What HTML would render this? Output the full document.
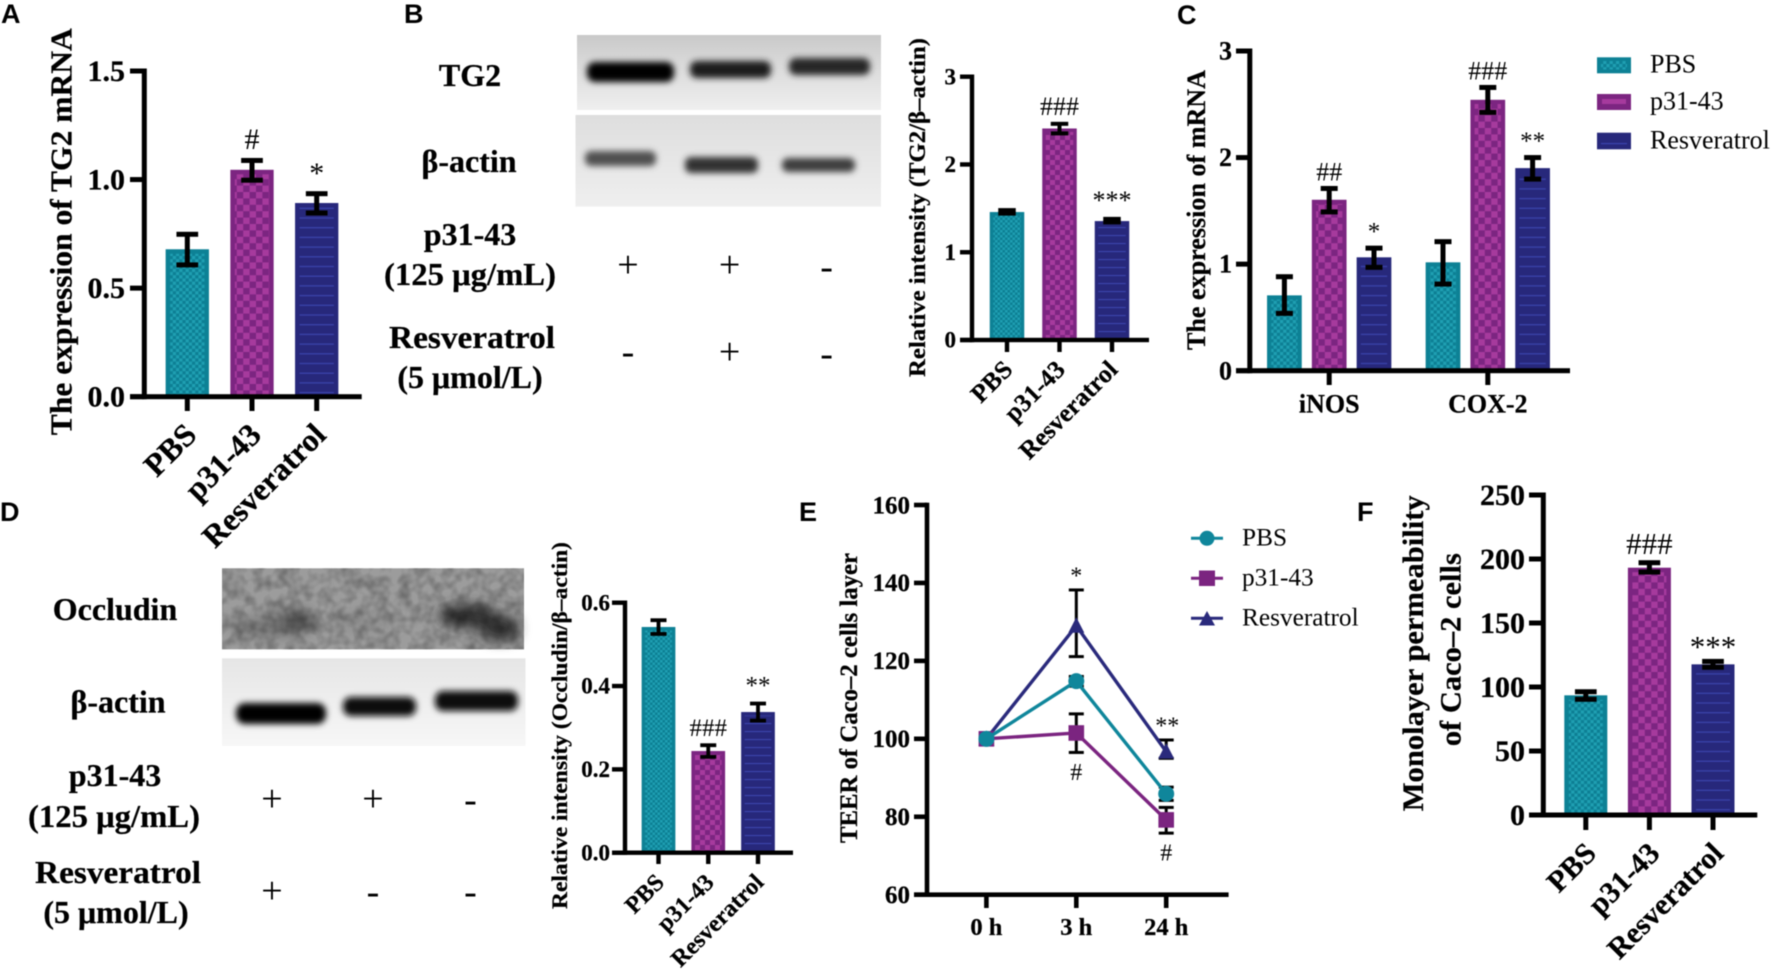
<!DOCTYPE html>
<html lang="en">
<head>
<meta charset="utf-8">
<title>Resveratrol panel figure</title>
<style>
html,body{margin:0;padding:0;background:#fff;width:1772px;height:971px;overflow:hidden}
svg{display:block;position:absolute;left:0;top:0;filter:blur(.45px)}
text{font-family:"Liberation Serif",serif;fill:#000}
.b,.lab,text[font-weight=bold]{font-weight:bold;stroke:#000;stroke-width:.25}
.letter{font-family:"Liberation Sans",sans-serif;font-weight:bold;font-size:27px}
.lab{font-size:32px;text-anchor:middle}
.sign{font-size:38px;text-anchor:middle}
</style>
</head>
<body>
<svg id="figure" xmlns="http://www.w3.org/2000/svg" width="1772" height="971" viewBox="0 0 1772 971">
<defs>
<pattern id="teal-lg" width="6.4" height="6.4" patternUnits="userSpaceOnUse"><rect width="6.4" height="6.4" fill="#0d7f94"/><rect width="3.2" height="3.2" fill="#1f9fb2"/><rect x="3.2" y="3.2" width="3.2" height="3.2" fill="#1f9fb2"/></pattern>
<pattern id="purple-lg" width="12.8" height="12.8" patternUnits="userSpaceOnUse"><rect width="12.8" height="12.8" fill="#7c2581"/><rect width="6.4" height="6.4" fill="#a63a9d"/><rect x="6.4" y="6.4" width="6.4" height="6.4" fill="#a63a9d"/></pattern>
<pattern id="navy-lg" width="9.7" height="9.7" patternUnits="userSpaceOnUse"><rect width="9.7" height="9.7" fill="#27287b"/><rect y="4" width="9.7" height="1.2" fill="#3b44ae"/></pattern>
<pattern id="teal-sm" width="5" height="5" patternUnits="userSpaceOnUse"><rect width="5" height="5" fill="#0d7f94"/><rect width="2.5" height="2.5" fill="#1f9fb2"/><rect x="2.5" y="2.5" width="2.5" height="2.5" fill="#1f9fb2"/></pattern>
<pattern id="purple-sm" width="10" height="10" patternUnits="userSpaceOnUse"><rect width="10" height="10" fill="#7c2581"/><rect width="5" height="5" fill="#a63a9d"/><rect x="5" y="5" width="5" height="5" fill="#a63a9d"/></pattern>
<pattern id="navy-sm" width="8" height="8" patternUnits="userSpaceOnUse"><rect width="8" height="8" fill="#27287b"/><rect y="3" width="8" height="1.1" fill="#3b44ae"/></pattern>
<filter id="blur3" x="-30%" y="-80%" width="160%" height="260%"><feGaussianBlur stdDeviation="3.2"/></filter>
<filter id="blur5" x="-30%" y="-80%" width="160%" height="260%"><feGaussianBlur stdDeviation="6"/></filter>
<filter id="mottle" x="0" y="0" width="100%" height="100%"><feTurbulence type="fractalNoise" baseFrequency=".09" numOctaves="2" seed="4"/><feColorMatrix values="0 0 0 0 0  0 0 0 0 0  0 0 0 0 0  1.6 0 0 0 -.55"/></filter>
<linearGradient id="bg-tg2" x1="0" y1="0" x2="0" y2="1"><stop offset="0" stop-color="#c9c9c9"/><stop offset=".35" stop-color="#d8d8d8"/><stop offset="1" stop-color="#efefef"/></linearGradient>
<linearGradient id="bg-act" x1="0" y1="0" x2="0" y2="1"><stop offset="0" stop-color="#dedede"/><stop offset="1" stop-color="#efefef"/></linearGradient>
<linearGradient id="bg-act2" x1="0" y1="0" x2="0" y2="1"><stop offset="0" stop-color="#e6e6e6"/><stop offset="1" stop-color="#f7f7f7"/></linearGradient>
</defs>

<text class="letter" x="1" y="23">A</text>
<text class="letter" x="404" y="23">B</text>
<text class="letter" x="1177" y="24">C</text>
<text class="letter" x="0" y="521">D</text>
<text class="letter" x="799" y="521">E</text>
<text class="letter" x="1357" y="521">F</text>

<!-- Axis titles -->
<text class="b" font-size="31" text-anchor="middle" transform="translate(71.5,231.7) rotate(-90)" textLength="407" lengthAdjust="spacingAndGlyphs">The expression of TG2 mRNA</text>
<text class="b" font-size="23" text-anchor="middle" transform="translate(925,207.5) rotate(-90)" textLength="339" lengthAdjust="spacingAndGlyphs">Relative intensity (TG2/β–actin)</text>
<text class="b" font-size="26" text-anchor="middle" transform="translate(1205,210) rotate(-90)" textLength="280" lengthAdjust="spacingAndGlyphs">The expression of mRNA</text>
<text class="b" font-size="22" text-anchor="middle" transform="translate(567,725.5) rotate(-90)" textLength="367" lengthAdjust="spacingAndGlyphs">Relative intensity (Occludin/β–actin)</text>
<text class="b" font-size="25" text-anchor="middle" transform="translate(857,698) rotate(-90)" textLength="290" lengthAdjust="spacingAndGlyphs">TEER of Caco–2 cells layer</text>
<text class="b" font-size="30" text-anchor="middle" transform="translate(1423,653.3) rotate(-90)" textLength="316" lengthAdjust="spacingAndGlyphs">Monolayer permeability</text>
<text class="b" font-size="30" text-anchor="middle" transform="translate(1460.7,649.7) rotate(-90)" textLength="193" lengthAdjust="spacingAndGlyphs">of Caco–2 cells</text>

<!-- Panel B blots -->
<g>
<rect x="577" y="35" width="304" height="75" fill="url(#bg-tg2)"/>
<g filter="url(#blur3)">
<rect x="587" y="62" width="87" height="20" rx="8" fill="#000"/>
<rect x="690" y="61" width="81" height="17" rx="7" fill="#1e1e1e"/>
<rect x="789" y="58" width="81" height="17" rx="7" fill="#262626"/>
</g></g>
<g>
<rect x="575.5" y="115" width="305.5" height="91.7" fill="url(#bg-act)"/>
<g filter="url(#blur3)">
<rect x="585" y="151" width="71" height="15" rx="6" fill="#505050"/>
<rect x="685" y="157" width="73" height="16" rx="6" fill="#333"/>
<rect x="782" y="158" width="73" height="14" rx="6" fill="#3c3c3c"/>
</g></g>

<!-- Panel D blots -->
<g>
<rect x="222" y="568.3" width="302" height="81" fill="#9c9c9c"/>
<g filter="url(#blur5)">
<ellipse cx="270" cy="627" rx="38" ry="10" fill="#787878"/>
<ellipse cx="297" cy="621" rx="17" ry="12" fill="#555"/>
<ellipse cx="468" cy="616" rx="30" ry="12" fill="#303030"/>
<ellipse cx="500" cy="628" rx="19" ry="13" fill="#333"/>
<ellipse cx="365" cy="622" rx="30" ry="11" fill="#909090"/>
</g>
<rect x="222" y="568.3" width="302" height="81" filter="url(#mottle)" opacity=".35"/>
</g>
<g>
<rect x="222" y="658.3" width="303.5" height="87.7" fill="url(#bg-act2)"/>
<g filter="url(#blur3)">
<rect x="236" y="703" width="90" height="21" rx="9" fill="#000"/>
<rect x="343" y="697" width="73" height="19" rx="8" fill="#0c0c0c"/>
<rect x="435" y="691" width="83" height="20" rx="8" fill="#080808"/>
</g></g>

<!-- Panel B treatment labels -->
<g>
<text class="lab" x="470" y="86">TG2</text>
<text class="lab" x="469" y="172">β-actin</text>
<text class="lab" x="470" y="245">p31-43</text>
<text class="lab" x="470" y="285" textLength="172" lengthAdjust="spacingAndGlyphs">(125 μg/mL)</text>
<text class="lab" x="472" y="348" textLength="166" lengthAdjust="spacingAndGlyphs">Resveratrol</text>
<text class="lab" x="470" y="388">(5 μmol/L)</text>
<text class="sign" x="628" y="277">+</text>
<text class="sign" x="729.6" y="277">+</text>
<text class="sign" x="826.6" y="279">-</text>
<text class="sign" x="628" y="364">-</text>
<text class="sign" x="729.6" y="364">+</text>
<text class="sign" x="826.6" y="366">-</text>
</g>

<!-- Panel D treatment labels -->
<g>
<text class="lab" x="115" y="620">Occludin</text>
<text class="lab" x="118" y="712.7">β-actin</text>
<text class="lab" x="115" y="786">p31-43</text>
<text class="lab" x="114" y="827" textLength="172" lengthAdjust="spacingAndGlyphs">(125 μg/mL)</text>
<text class="lab" x="118" y="883" textLength="166" lengthAdjust="spacingAndGlyphs">Resveratrol</text>
<text class="lab" x="116" y="923">(5 μmol/L)</text>
<text class="sign" x="272" y="811">+</text>
<text class="sign" x="373" y="811">+</text>
<text class="sign" x="470.4" y="812">-</text>
<text class="sign" x="272" y="903">+</text>
<text class="sign" x="373" y="904">-</text>
<text class="sign" x="470.4" y="904">-</text>
</g>

<!-- Panel C legend -->
<g>
<rect x="1597" y="57.3" width="34" height="16" fill="#0d8195"/>
<rect x="1601" y="61" width="26" height="8.5" fill="url(#teal-lg)"/>
<rect x="1597" y="94" width="34" height="16" fill="#7c2581"/>
<rect x="1602" y="99" width="24" height="5" fill="#a63a9d"/>
<rect x="1597" y="132.7" width="34" height="16.6" fill="#27287b"/>
<rect x="1601" y="143" width="26" height="1.2" fill="#3b44ae"/>
<text x="1650" y="72.7" font-size="26">PBS</text>
<text x="1650" y="109.3" font-size="26">p31-43</text>
<text x="1650" y="148.3" font-size="26">Resveratrol</text>
</g>

<!-- Panel E legend -->
<g>
<line x1="1191" x2="1223" y1="538.3" y2="538.3" stroke="#0f869b" stroke-width="3"/>
<circle cx="1207" cy="538.3" r="7.5" fill="#0f869b"/>
<line x1="1191" x2="1223" y1="578.3" y2="578.3" stroke="#7b2480" stroke-width="3"/>
<rect x="1199" y="570.5" width="16" height="15.5" fill="#7b2480"/>
<line x1="1191" x2="1223" y1="618.3" y2="618.3" stroke="#2a2a7c" stroke-width="3"/>
<polygon points="1207,611 1215,625.5 1199,625.5" fill="#2a2a7c"/>
<text x="1242" y="545.7" font-size="25.3">PBS</text>
<text x="1242" y="585.7" font-size="25.3">p31-43</text>
<text x="1242" y="625.7" font-size="25.3">Resveratrol</text>
</g>
</svg>

<script>
// ---------- Panel A ----------
const panelA_categories = ['PBS', 'p31-43', 'Resveratrol'];
const panelA_values = [0.679, 1.045, 0.892];
const panelA_errHigh = [0.748, 1.088, 0.935];
const panelA_errLow = [0.607, 0.997, 0.846];
const panelA_ticks = [0, 0.5, 1.0, 1.5];
const panelA_tickLabels = ['0.0', '0.5', '1.0', '1.5'];
const panelA_marks = ['', '#', '*'];
// ---------- Panel B ----------
const panelB_categories = ['PBS', 'p31-43', 'Resveratrol'];
const panelB_values = [1.458, 2.41, 1.355];
const panelB_errHigh = [1.48, 2.463, 1.38];
const panelB_errLow = [1.44, 2.354, 1.34];
const panelB_ticks = [0, 1, 2, 3];
const panelB_tickLabels = ['0', '1', '2', '3'];
const panelB_marks = ['', '###', '***'];
// ---------- Panel C ----------
const panelC_groups = ['iNOS', 'COX-2'];
const panelC_pbs = [0.707, 1.017];
const panelC_pbsHigh = [0.882, 1.211];
const panelC_pbsLow = [0.538, 0.813];
const panelC_p31 = [1.604, 2.542];
const panelC_p31High = [1.71, 2.658];
const panelC_p31Low = [1.49, 2.424];
const panelC_res = [1.064, 1.901];
const panelC_resHigh = [1.15, 2.0];
const panelC_resLow = [0.97, 1.798];
const panelC_p31Marks = ['##', '###'];
const panelC_resMarks = ['*', '**'];
const panelC_ticks = [0, 1, 2, 3];
const panelC_tickLabels = ['0', '1', '2', '3'];
// ---------- Panel D ----------
const panelD_categories = ['PBS', 'p31-43', 'Resveratrol'];
const panelD_values = [0.5417, 0.244, 0.3376];
const panelD_errHigh = [0.558, 0.258, 0.358];
const panelD_errLow = [0.525, 0.23, 0.317];
const panelD_ticks = [0, 0.2, 0.4, 0.6];
const panelD_tickLabels = ['0.0', '0.2', '0.4', '0.6'];
const panelD_marks = ['', '###', '**'];
// ---------- Panel E ----------
const panelE_times = ['0 h', '3 h', '24 h'];
const panelE_pbs = [100, 114.8, 85.9];
const panelE_pbsHigh = [100, 116, 87.6];
const panelE_pbsLow = [100, 113.5, 84.2];
const panelE_p31 = [100, 101.5, 79.2];
const panelE_p31High = [100, 106.4, 82.4];
const panelE_p31Low = [100, 96.5, 75.8];
const panelE_res = [100, 129, 96.7];
const panelE_resHigh = [100, 138.2, 99.7];
const panelE_resLow = [100, 121.1, 95];
const panelE_topMarks = ['', '*', '**'];
const panelE_bottomMarks = ['', '#', '#'];
const panelE_ticks = [60, 80, 100, 120, 140, 160];
const panelE_tickLabels = ['60', '80', '100', '120', '140', '160'];
// ---------- Panel F ----------
const panelF_categories = ['PBS', 'p31-43', 'Resveratrol'];
const panelF_values = [93.5, 193.2, 117.7];
const panelF_errHigh = [96.3, 197.1, 120];
const panelF_errLow = [90.4, 189.8, 115.4];
const panelF_ticks = [0, 50, 100, 150, 200, 250];
const panelF_tickLabels = ['0', '50', '100', '150', '200', '250'];
const panelF_marks = ['', '###', '***'];

const NS = 'http://www.w3.org/2000/svg';
const root = document.getElementById('figure');
const BORDER = ['#0d8195', '#7c2581', '#27287b'];
const FILLS = ['teal', 'purple', 'navy'];

function mk(tag, attrs, parent) {
  const n = document.createElementNS(NS, tag);
  for (const k in attrs) n.setAttribute(k, attrs[k]);
  parent.appendChild(n);
  return n;
}
function linearScale(d0, d1, r0, r1) {
  return v => r0 + (v - d0) * (r1 - r0) / (d1 - d0);
}

function drawAxes(g, c, y, ticks, labels) {
  const yAxis = mk('rect', {x: c.axisX - c.sw / 2, y: c.yTop - c.sw / 2, width: c.sw, height: c.y0 - c.yTop + c.sw, fill: '#000'}, g);
  
  
  const xAxis = mk('rect', {x: c.tickLeft, y: c.y0 - c.sw / 2, width: c.axisEnd - c.tickLeft, height: c.sw, fill: '#000'}, g);
  
  
  ticks.forEach((t, i) => {
    const ty = y(t);
    const tick = mk('rect', {x: c.tickLeft, y: ty - c.sw / 2, width: c.axisX - c.tickLeft, height: c.sw, fill: '#000'}, g);
    
    
    const lab = mk('text', {x: c.labelRight, y: ty + c.tickFont * 0.33, 'font-size': c.tickFont, 'font-weight': 'bold', 'text-anchor': 'end'}, g);
    lab.textContent = labels[i];
    
    
  });
}

function drawXTick(g, c, x) {
  const tick = mk('rect', {x: x - c.sw / 2, y: c.y0, width: c.sw, height: c.tickDown - c.y0, fill: '#000'}, g);
  
  
}

function drawErr(g, x, yHi, yLo, capW, t, color) {
  const stem = mk('rect', {x: x - t / 2, y: yHi, width: t, height: yLo - yHi, fill: color}, g);
  
  
  const capTop = mk('rect', {x: x - capW / 2, y: yHi - t / 2, width: capW, height: t, fill: color}, g);
  
  
  const capBottom = mk('rect', {x: x - capW / 2, y: yLo - t / 2, width: capW, height: t, fill: color}, g);
  
  
}

function drawBar(g, c, cx, series, value, hi, lo, y, name) {
  const top = y(value);
  const inset = c.inset;
  const outer = mk('rect', {x: cx - c.barW / 2, y: top, width: c.barW, height: c.y0 - top, fill: BORDER[series]}, g);
  
  
  const inner = mk('rect', {x: cx - c.barW / 2 + inset, y: top + inset, width: Math.max(0, c.barW - 2 * inset), height: Math.max(0, c.y0 - top - inset), fill: 'url(#' + FILLS[series] + '-' + c.pattern + ')'}, g);
  
  
  drawErr(g, cx, y(hi), y(lo), c.capW, c.errT, '#000');
}

function drawMark(g, cx, baseY, text, size) {
  const m = mk('text', {x: cx, y: baseY, 'font-size': size, 'text-anchor': 'middle'}, g);
  m.textContent = text;
  
  
}

function drawSimpleBars(c, categories, values, errHigh, errLow, ticks, tickLabels, marks) {
  const g = mk('g', {}, root);
  
  
  const y = linearScale(0, ticks[ticks.length - 1], c.y0, c.yTop);
  categories.forEach((cat, i) => {
    const cx = c.x0 + i * c.step;
    drawBar(g, c, cx, i, values[i], errHigh[i], errLow[i], y, cat.toLowerCase());
    drawXTick(g, c, cx);
    const lab = mk('text', {transform: 'translate(' + (cx + c.labDx) + ',' + (c.y0 + c.labDy) + ') rotate(-45)', 'font-size': c.xFont, 'font-weight': 'bold', 'text-anchor': 'end'}, g);
    lab.textContent = cat;
    
    
    if (marks[i]) {
      const gap = marks[i][0] === '#' ? c.hashGap : c.starGap;
      drawMark(g, cx, y(errHigh[i]) - gap, marks[i], c.markFont);
    }
  });
  drawAxes(g, c, y, ticks, tickLabels);
}

drawSimpleBars({name: 'panel-a-tg2-mrna-chart', axisX: 144.3, yTop: 71, y0: 396.7, sw: 5, tickLeft: 130, axisEnd: 361.7, tickDown: 411, labelRight: 125, tickFont: 30, x0: 187.3, step: 64.7, barW: 43.3, inset: 4.5, pattern: 'lg', capW: 21.7, errT: 5, labDx: 11, labDy: 40, xFont: 32, markFont: 30, hashGap: 11.5, starGap: 10.5}, panelA_categories, panelA_values, panelA_errHigh, panelA_errLow, panelA_ticks, panelA_tickLabels, panelA_marks);

drawSimpleBars({name: 'panel-b-tg2-intensity-chart', axisX: 972, yTop: 76.7, y0: 340, sw: 4.4, tickLeft: 960, axisEnd: 1149, tickDown: 352, labelRight: 956, tickFont: 23, x0: 1007, step: 52.5, barW: 34.5, inset: 3.5, pattern: 'sm', capW: 17.5, errT: 4, labDx: 7, labDy: 31, xFont: 25.5, markFont: 26, hashGap: 8.7, starGap: 10}, panelB_categories, panelB_values, panelB_errHigh, panelB_errLow, panelB_ticks, panelB_tickLabels, panelB_marks);

drawSimpleBars({name: 'panel-d-occludin-intensity-chart', axisX: 625, yTop: 602.7, y0: 852.7, sw: 4.4, tickLeft: 612, axisEnd: 793, tickDown: 864, labelRight: 610, tickFont: 23, x0: 658.5, step: 49.75, barW: 33.7, inset: 3.5, pattern: 'sm', capW: 16, errT: 3.8, labDx: 7, labDy: 31, xFont: 24, markFont: 25, hashGap: 9, starGap: 10}, panelD_categories, panelD_values, panelD_errHigh, panelD_errLow, panelD_ticks, panelD_tickLabels, panelD_marks);

drawSimpleBars({name: 'panel-f-permeability-chart', axisX: 1543.3, yTop: 495, y0: 815, sw: 5, tickLeft: 1529, axisEnd: 1757.3, tickDown: 830, labelRight: 1525, tickFont: 30, x0: 1585.8, step: 63.6, barW: 43, inset: 4.5, pattern: 'lg', capW: 21.7, errT: 5, labDx: 12, labDy: 40, xFont: 30, markFont: 31, hashGap: 8.7, starGap: 4.5}, panelF_categories, panelF_values, panelF_errHigh, panelF_errLow, panelF_ticks, panelF_tickLabels, panelF_marks);

// Panel C: grouped bars
(function () {
  const c = {axisX: 1249.8, yTop: 51, y0: 370.7, sw: 5, tickLeft: 1236, axisEnd: 1570, tickDown: 385, labelRight: 1232, tickFont: 26, barW: 34.7, inset: 4.2, pattern: 'lg', capW: 17, errT: 5};
  const g = mk('g', {}, root);
  
  
  const y = linearScale(0, panelC_ticks[panelC_ticks.length - 1], c.y0, c.yTop);
  const seriesVals = [panelC_pbs, panelC_p31, panelC_res];
  const seriesHigh = [panelC_pbsHigh, panelC_p31High, panelC_resHigh];
  const seriesLow = [panelC_pbsLow, panelC_p31Low, panelC_resLow];
  const seriesNames = ['pbs', 'p31-43', 'resveratrol'];
  panelC_groups.forEach((grp, gi) => {
    const center = 1329.2 + gi * 158.6;
    seriesVals.forEach((vals, s) => {
      const cx = center + (s - 1) * 44.8;
      drawBar(g, c, cx, s, vals[gi], seriesHigh[s][gi], seriesLow[s][gi], y, grp.toLowerCase() + '-' + seriesNames[s]);
    });
    drawXTick(g, c, center);
    const lab = mk('text', {x: center, y: 412.7, 'font-size': 26, 'font-weight': 'bold', 'text-anchor': 'middle'}, g);
    lab.textContent = grp;
    
    
    drawMark(g, center, y(panelC_p31High[gi]) - 8, panelC_p31Marks[gi], 26);
    drawMark(g, center + 44.8, y(panelC_resHigh[gi]) - 8.7, panelC_resMarks[gi], 25);
  });
  drawAxes(g, c, y, panelC_ticks, panelC_tickLabels);
})();

// Panel E: line chart
(function () {
  const c = {axisX: 927, yTop: 505, y0: 894.7, sw: 4.6, tickLeft: 914, axisEnd: 1228.6, tickDown: 908, labelRight: 910, tickFont: 25};
  const g = mk('g', {}, root);
  
  
  const y = linearScale(60, 160, c.y0, c.yTop);
  const x = i => 986.4 + i * 89.9;
  drawAxes(g, c, y, panelE_ticks, panelE_tickLabels);
  panelE_times.forEach((t, i) => {
    drawXTick(g, c, x(i));
    const lab = mk('text', {x: x(i), y: 935, 'font-size': 24.5, 'font-weight': 'bold', 'text-anchor': 'middle'}, g);
    lab.textContent = t;
    
    
  });
  const colors = {res: '#2a2a7c', p31: '#7b2480', pbs: '#0f869b'};
  const order = [
    ['res', panelE_res, panelE_resHigh, panelE_resLow],
    ['p31', panelE_p31, panelE_p31High, panelE_p31Low],
    ['pbs', panelE_pbs, panelE_pbsHigh, panelE_pbsLow]
  ];
  order.forEach(([key, vals, hi, lo]) => {
    vals.forEach((v, i) => {
      if (hi[i] !== lo[i]) drawErr(g, x(i), y(hi[i]), y(lo[i]), 15, 3, '#000');
    });
    const line = mk('polyline', {points: vals.map((v, i) => x(i) + ',' + y(v)).join(' '), fill: 'none', stroke: colors[key], 'stroke-width': 3.4}, g);
    
    
    vals.forEach((v, i) => {
      let m;
      if (key === 'pbs') m = mk('circle', {cx: x(i), cy: y(v), r: 8, fill: colors[key]}, g);
      else if (key === 'p31') m = mk('rect', {x: x(i) - 7.8, y: y(v) - 7.8, width: 15.6, height: 15.6, fill: colors[key]}, g);
      else m = mk('polygon', {points: [[x(i), y(v) - 8.5], [x(i) + 8, y(v) + 7], [x(i) - 8, y(v) + 7]].map(p => p.join(',')).join(' '), fill: colors[key]}, g);
      
      
    });
  });
  panelE_times.forEach((t, i) => {
    if (panelE_topMarks[i]) drawMark(g, x(i) + (i === 2 ? 1 : 0), y(panelE_resHigh[i]) - 6.5, panelE_topMarks[i], 24);
    if (panelE_bottomMarks[i]) drawMark(g, x(i), y(panelE_p31Low[i]) + 27.5, panelE_bottomMarks[i], 24);
  });
})();
</script>
</body>
</html>
